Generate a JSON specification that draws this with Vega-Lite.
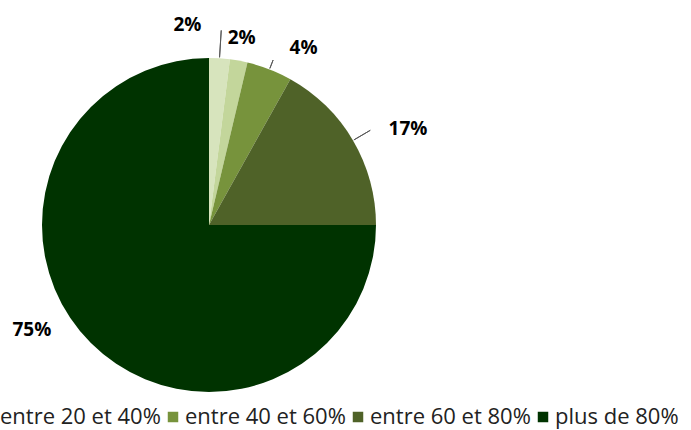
{
  "$schema": "https://vega.github.io/schema/vega-lite/v6.json",
  "width": 418,
  "height": 450,
  "autosize": "none",
  "padding": {"left": 0, "top": 0, "right": 273, "bottom": 0},
  "background": "white",
  "data": {
    "values": [
      {"cat": "moins de 20%", "value": 0.020, "order": 1},
      {"cat": "entre 20 et 40%", "value": 0.017, "order": 2},
      {"cat": "entre 40 et 60%", "value": 0.044, "order": 3},
      {"cat": "entre 60 et 80%", "value": 0.169, "order": 4},
      {"cat": "plus de 80%", "value": 0.750, "order": 5}
    ]
  },
  "encoding": {
    "theta": {"field": "value", "type": "quantitative", "stack": true},
    "order": {"field": "order", "type": "quantitative"}
  },
  "layer": [
    {
      "mark": {"type": "arc", "outerRadius": 167},
      "encoding": {
        "color": {
          "field": "cat",
          "type": "nominal",
          "scale": {
            "domain": ["moins de 20%", "entre 20 et 40%", "entre 40 et 60%", "entre 60 et 80%", "plus de 80%"],
            "range": ["#d7e4bd", "#c3d69b", "#77933c", "#4f6228", "#003300"]
          },
          "legend": {
            "orient": "none",
            "legendX": -191,
            "legendY": 406,
            "direction": "horizontal",
            "title": null,
            "symbolType": "square",
            "symbolSize": 110,
            "symbolStrokeWidth": 0,
            "labelFont": "Open Sans",
            "labelFontSize": 22,
            "labelColor": "#222222",
            "labelOffset": 1,
            "columnPadding": 1,
            "gridAlign": "none",
            "labelLimit": 400
          }
        }
      }
    },
    {
      "mark": {"type": "arc", "innerRadius": 168, "outerRadius": 195, "padAngle": 3.14, "fill": "transparent", "stroke": "#595959", "strokeWidth": 1},
      "encoding": {"strokeOpacity": {"condition": {"test": "datum.order === 1", "value": 1}, "value": 0}}
    },
    {
      "mark": {"type": "arc", "innerRadius": 168, "outerRadius": 177, "padAngle": 3.14, "fill": "transparent", "stroke": "#595959", "strokeWidth": 1},
      "encoding": {"strokeOpacity": {"condition": {"test": "datum.order === 3", "value": 1}, "value": 0}}
    },
    {
      "mark": {"type": "arc", "innerRadius": 168, "outerRadius": 187, "padAngle": 3.14, "fill": "transparent", "stroke": "#595959", "strokeWidth": 1},
      "encoding": {"strokeOpacity": {"condition": {"test": "datum.order === 4", "value": 1}, "value": 0}}
    },
    {
      "mark": {"type": "text", "radius": 167, "dx": -32, "dy": -33, "font": "Open Sans", "fontSize": 19, "fontWeight": "bold", "color": "#000000", "align": "center", "baseline": "middle"},
      "encoding": {"text": {"condition": {"test": "datum.order === 1", "field": "value", "format": ".0%"}, "value": ""}}
    },
    {
      "mark": {"type": "text", "radius": 167, "dx": 3, "dy": -23, "font": "Open Sans", "fontSize": 19, "fontWeight": "bold", "color": "#000000", "align": "center", "baseline": "middle"},
      "encoding": {"text": {"condition": {"test": "datum.order === 2", "field": "value", "format": ".0%"}, "value": ""}}
    },
    {
      "mark": {"type": "text", "radius": 167, "dx": 34, "dy": -21, "font": "Open Sans", "fontSize": 19, "fontWeight": "bold", "color": "#000000", "align": "center", "baseline": "middle"},
      "encoding": {"text": {"condition": {"test": "datum.order === 3", "field": "value", "format": ".0%"}, "value": ""}}
    },
    {
      "mark": {"type": "text", "radius": 167, "dx": 55, "dy": -11, "font": "Open Sans", "fontSize": 19, "fontWeight": "bold", "color": "#000000", "align": "center", "baseline": "middle"},
      "encoding": {"text": {"condition": {"test": "datum.order === 4", "field": "value", "format": ".0%"}, "value": ""}}
    },
    {
      "mark": {"type": "text", "radius": 167, "dx": -59, "dy": -13, "font": "Open Sans", "fontSize": 19, "fontWeight": "bold", "color": "#000000", "align": "center", "baseline": "middle"},
      "encoding": {"text": {"condition": {"test": "datum.order === 5", "field": "value", "format": ".0%"}, "value": ""}}
    }
  ],
  "config": {"view": {"stroke": null}}
}
